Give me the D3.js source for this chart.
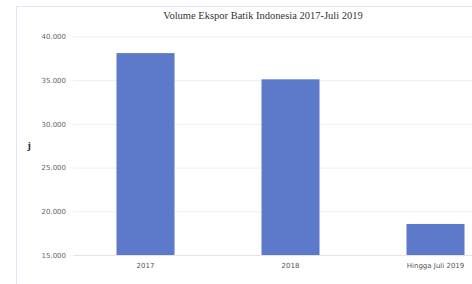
<!DOCTYPE html>
<html lang="en">
<head>
    <meta charset="UTF-8">
    <title>Volume Ekspor Batik Indonesia</title>
    <style>
        body { margin: 0; background: #fff; }
        svg { display: block; }
    </style>
</head>
<body>
    <div id="chart"></div>

    <script src="https://d3js.org/d3.v7.min.js"></script>
    <script>
        // Data
        var categories = ["2017", "2018", "Hingga Juli 2019"];
        var volumes = [38100, 35100, 18550];
        var yTicks = [15000, 20000, 25000, 30000, 35000, 40000];

        var W = 472, H = 284;
        var svg = d3.select("#chart").append("svg")
            .attr("width", W)
            .attr("height", H);

        // light frame of the original screenshot
        svg.append("line").attr("x1", 16.5).attr("x2", 16.5).attr("y1", 6).attr("y2", H)
            .attr("stroke", "#dde4f4").attr("stroke-width", 1);
        svg.append("line").attr("x1", 16).attr("x2", W).attr("y1", 6.5).attr("y2", 6.5)
            .attr("stroke", "#dde4f4").attr("stroke-width", 1);

        // plot area runs past the right edge (reference is cropped)
        var x = d3.scaleBand()
            .domain(categories)
            .range([73, 508])
            .paddingInner(0.6)
            .paddingOuter(0.3);

        var y = d3.scaleLinear()
            .domain([15000, 40000])
            .range([255, 36.5]);

        var fmt = function(d) { return d3.format(",.3f")(d / 1000).replace(",", ""); };

        // gridlines + y labels
        var yAxis = d3.axisLeft(y)
            .tickValues(yTicks)
            .tickSize(-(W - 73))
            .tickPadding(7)
            .tickFormat(function(d) { return (d / 1000).toFixed(3); });

        var gy = svg.append("g")
            .attr("transform", "translate(73,0)")
            .call(yAxis);
        gy.select(".domain").remove();
        gy.selectAll(".tick line").attr("stroke", "#eeeeee");
        gy.selectAll(".tick text")
            .attr("fill", "#666")
            .style("font-family", "'DejaVu Sans', sans-serif")
            .style("font-size", "7px");

        // bars
        svg.append("g").selectAll("rect")
            .data(volumes)
            .enter().append("rect")
            .attr("x", function(d, i) { return x(categories[i]); })
            .attr("y", function(d) { return y(d); })
            .attr("width", x.bandwidth())
            .attr("height", function(d) { return y(15000) - y(d); })
            .attr("fill", "#5d79c9");

        // x axis
        var gx = svg.append("g")
            .attr("transform", "translate(0,255)")
            .call(d3.axisBottom(x).tickSize(0).tickPadding(8));
        gx.select(".domain").attr("stroke", "#e4e4e4");
        gx.selectAll(".tick text")
            .attr("fill", "#555")
            .style("font-family", "'DejaVu Sans', sans-serif")
            .style("font-size", "7px");

        // title
        svg.append("text")
            .attr("x", 263)
            .attr("y", 19)
            .attr("text-anchor", "middle")
            .attr("fill", "#333")
            .style("font-family", "'Liberation Serif', serif")
            .style("font-size", "10.5px")
            .text("Volume Ekspor Batik Indonesia 2017-Juli 2019");

        // y axis label (cut short in the reference)
        svg.append("text")
            .attr("x", 29)
            .attr("y", 149)
            .attr("text-anchor", "middle")
            .attr("fill", "#333")
            .style("font-family", "'Liberation Serif', serif")
            .style("font-size", "11px")
            .style("font-weight", "bold")
            .text("j");
    </script>
</body>
</html>
